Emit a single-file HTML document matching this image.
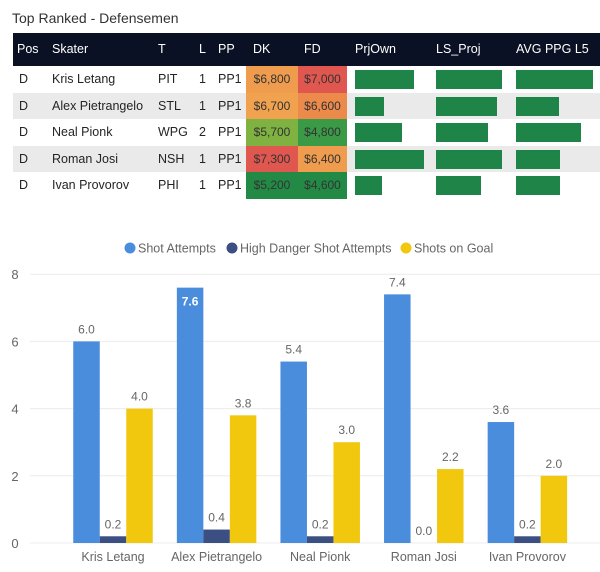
<!DOCTYPE html>
<html><head><meta charset="utf-8"><style>
body{margin:0;width:600px;height:572px;background:#fff;font-family:"Liberation Sans",sans-serif;position:relative;overflow:hidden;color:#252423}
.abs{position:absolute}
.title{left:12px;top:10px;font-size:14px;color:#333}
.hdr{left:13px;top:33px;width:587px;height:33px;background:#0b1125}
.hdr span{position:absolute;top:9px;color:#fff;font-size:12.5px}
.row{left:13px;width:587px;height:26.5px}
.row span{position:absolute;top:6px;font-size:12.5px}
.cell{position:absolute;top:0;height:26.5px;width:52px;font-size:12px;text-align:center;line-height:26.5px;color:#333}
.bar{position:absolute;top:4px;height:19px;background:#1f8447}
</style></head><body>
<div class="abs title">Top Ranked - Defensemen</div>
<div class="abs hdr">
<span style="left:4px">Pos</span><span style="left:39px">Skater</span><span style="left:145px">T</span><span style="left:186px">L</span><span style="left:205px">PP</span><span style="left:240px">DK</span><span style="left:291px">FD</span><span style="left:342px">PrjOwn</span><span style="left:423px">LS_Proj</span><span style="left:503px">AVG PPG L5</span>
</div>
<div id="rows"></div>
<svg class="abs" style="left:0;top:230px" width="600" height="342" id="chart"></svg>
<script>
const players=["Kris Letang","Alex Pietrangelo","Neal Pionk","Roman Josi","Ivan Provorov"];
const teams=["PIT","STL","WPG","NSH","PHI"];
const lines=["1","1","2","1","1"];
const dk=["$6,800","$6,700","$5,700","$7,300","$5,200"];
const fd=["$7,000","$6,600","$4,800","$6,400","$4,600"];
const dkColors=["#ef9c4e","#f0a24f","#7fb241","#e0574f","#238a45"];
const fdColors=["#e0574f","#ec8a4b","#3a9a46","#ef9c4e","#238a45"];
const prjOwn=[59,29,47,69,27];
const lsProj=[66,61,52,66,45];
const avgPpg=[77,43,65,44,44];
const rowsEl=document.getElementById('rows');
players.forEach((p,i)=>{
 const r=document.createElement('div');
 r.className='abs row';
 
 
 r.style.top=(66+i*26.5)+'px';
 r.style.background=i%2?'#eaeaea':'#fff';
 r.innerHTML=`<span style="left:6px">D</span><span style="left:39px">${p}</span><span style="left:145px">${teams[i]}</span><span style="left:186px">${lines[i]}</span><span style="left:205px">PP1</span>
 <div class="cell" style="left:233px;background:${dkColors[i]}">${dk[i]}</div><div class="cell" style="left:285px;width:49px;background:${fdColors[i]}">${fd[i]}</div>
 <div class="bar" style="left:342px;width:${prjOwn[i]}px"></div><div class="bar" style="left:423px;width:${lsProj[i]}px"></div><div class="bar" style="left:503px;width:${avgPpg[i]}px"></div>`;
 rowsEl.appendChild(r);
});
const shotAttempts=[6.0,7.6,5.4,7.4,3.6];
const highDanger=[0.2,0.4,0.2,0.0,0.2];
const shotsOnGoal=[4.0,3.8,3.0,2.2,2.0];
const yTicks=[0,2,4,6,8];
const svg=document.getElementById('chart');
const NS='http://www.w3.org/2000/svg';
const y=v=>313-v*33.6;
const cx=i=>113+i*103.6;
const bw=26.5;
function mk(t,a,txt){const e=document.createElementNS(NS,t);for(const k in a)e.setAttribute(k,a[k]);if(txt!==undefined)e.textContent=txt;svg.appendChild(e);return e;}
yTicks.forEach(t=>{
 const g=mk('line',{x1:30,x2:600,y1:y(t),y2:y(t),stroke:'#ececec'});
 
 
 const l=mk('text',{x:15,y:y(t)+5,'text-anchor':'middle','font-size':13,fill:'#666'},t);
 
 
});
const series=[[shotAttempts,'#4a8ddc'],[highDanger,'#3b4f82'],[shotsOnGoal,'#f2c80f']];
players.forEach((p,i)=>{
 series.forEach(([vals,c],s)=>{
  const x=cx(i)-1.5*bw+s*bw;
  const b=mk('rect',{x:x,y:y(vals[i]),width:bw,height:vals[i]*33.6,fill:c});
  
  
  const inside=vals[i]>=7.5;
  const t=mk('text',{x:x+bw/2,y:inside?y(vals[i])+18:y(vals[i])-8,'text-anchor':'middle','font-size':12,fill:inside?'#fff':'#666','font-weight':inside?'bold':'normal'},vals[i].toFixed(1));
  
  
 });
 const l=mk('text',{x:cx(i),y:331,'text-anchor':'middle','font-size':12.5,fill:'#666'},p);
 
 
});
const legend=[["Shot Attempts","#4a8ddc",130],["High Danger Shot Attempts","#3b4f82",232],["Shots on Goal","#f2c80f",406]];
legend.forEach(([n,c,x])=>{
 const d=mk('circle',{cx:x,cy:18,r:5.5,fill:c});
 
 
 const t=mk('text',{x:x+8,y:22.5,'font-size':12.5,fill:'#666'},n);
 
 
});
</script>
</body></html>
